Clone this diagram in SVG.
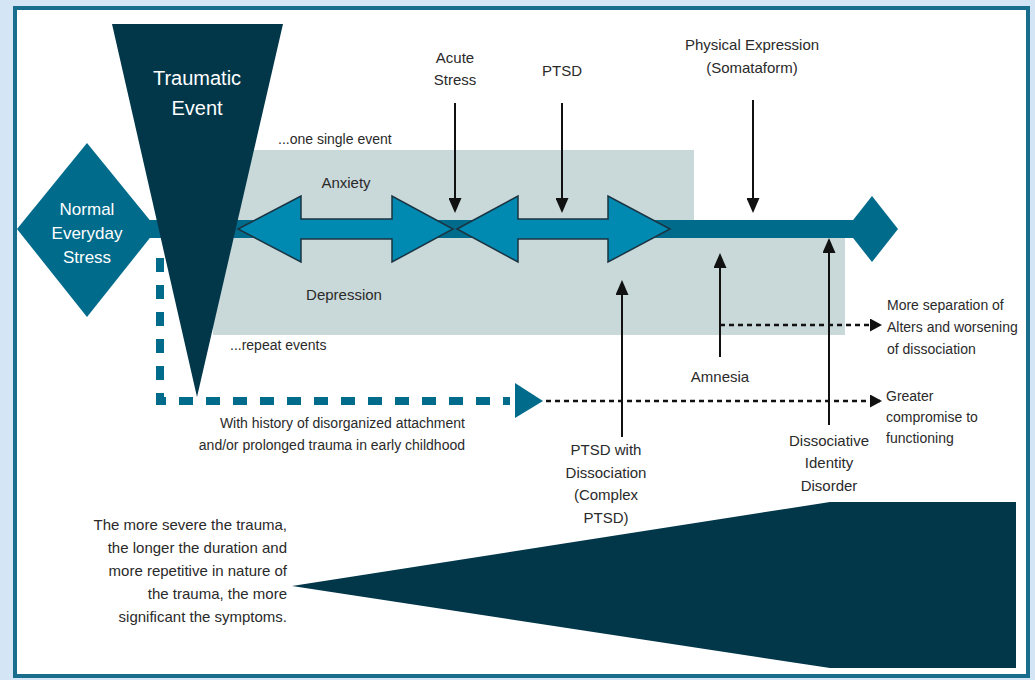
<svg xmlns="http://www.w3.org/2000/svg" width="1035" height="680" viewBox="0 0 1035 680">
<defs>
<style>
.lbl{font-family:"Liberation Sans",Arial,sans-serif;font-size:15px;fill:#2a2a2a}
.sm{font-size:14px}
.wt{font-family:"Liberation Sans",Arial,sans-serif;fill:#ffffff}
.arw{stroke:#111;stroke-width:2;fill:none;marker-end:url(#ah)}
.dot{stroke:#111;stroke-width:2.5;fill:none;stroke-dasharray:5 4;marker-end:url(#dh)}
.dbl{fill:#0089b1;stroke:#1b3442;stroke-width:1.5;stroke-linejoin:miter}
.teal{fill:#006b8b}
.navy{fill:#02374a}
</style>
<marker id="ah" viewBox="0 0 15 13" refX="13" refY="6.5" markerWidth="15" markerHeight="13" markerUnits="userSpaceOnUse" orient="auto">
<path d="M0,0 L15,6.5 L0,13 z" fill="#111"/>
</marker>
<marker id="dh" viewBox="0 0 12 13" refX="10" refY="6.5" markerWidth="12" markerHeight="13" markerUnits="userSpaceOnUse" orient="auto">
<path d="M0,0 L12,6.5 L0,13 z" fill="#111"/>
</marker>
</defs>
<rect x="0" y="0" width="1035" height="680" fill="#d4e5f5"/>
<rect x="15" y="8" width="1013" height="668" fill="#ffffff" stroke="#1a6e8d" stroke-width="4"/>

<g id="grey-zone">
<polygon points="213,150 694,150 694,229 845,229 845,335 213,335" fill="#c9d8d9"/>
</g>

<g id="timeline-bar">
<rect x="150" y="220" width="706" height="18" class="teal"/>
<polygon points="846,229 872,196 898,229 872,262" class="teal"/>
</g>

<g id="normal-stress">
<polygon points="17,229 87,143 157,229 87,317" class="teal"/>
<text class="wt" font-size="17" text-anchor="middle" x="87" y="215">Normal</text>
<text class="wt" font-size="17" text-anchor="middle" x="87" y="239">Everyday</text>
<text class="wt" font-size="17" text-anchor="middle" x="87" y="263">Stress</text>
</g>

<g id="traumatic-event">
<polygon points="112,24 283,24 197,397" class="navy"/>
<text class="wt" font-size="20" text-anchor="middle" x="197" y="85">Traumatic</text>
<text class="wt" font-size="20" text-anchor="middle" x="197" y="115">Event</text>
</g>

<g id="anxiety-arrow">
<polygon class="dbl" points="238,229 301,196 301,219 392,219 392,196 453,229 392,262 392,239 301,239 301,262"/>
</g>
<g id="ptsd-arrow">
<polygon class="dbl" points="457,229 518,196 518,219 608,219 608,196 670,229 608,262 608,239 518,239 518,262"/>
</g>

<g id="severity-wedge">
<polygon points="292,586 830,502 1016,502 1016,668 830,668" class="navy"/>
</g>

<g id="connectors">
<path d="M160,258 V401 H510" stroke="#006b8b" stroke-width="8" fill="none" stroke-dasharray="14 13"/>
<polygon points="515,383 543,401 515,418" class="teal"/>
<line class="dot" x1="546" y1="401" x2="880" y2="401"/>
<line class="dot" x1="720" y1="325" x2="880" y2="325"/>
<line class="arw" x1="455" y1="103" x2="455" y2="211"/>
<line class="arw" x1="562" y1="103" x2="562" y2="211"/>
<line class="arw" x1="753" y1="100" x2="753" y2="211"/>
<line class="arw" x1="622" y1="437" x2="622" y2="282"/>
<line class="arw" x1="720" y1="357" x2="720" y2="255"/>
<line class="arw" x1="829" y1="425" x2="829" y2="240"/>
</g>

<g id="labels">
<text class="lbl sm" x="278" y="144">...one single event</text>
<text class="lbl" text-anchor="middle" x="346" y="188">Anxiety</text>
<text class="lbl" text-anchor="middle" x="344" y="300">Depression</text>
<text class="lbl sm" x="230" y="350">...repeat events</text>
<text class="lbl" text-anchor="middle" x="455" y="63">Acute</text>
<text class="lbl" text-anchor="middle" x="455" y="85">Stress</text>
<text class="lbl" text-anchor="middle" x="562" y="76">PTSD</text>
<text class="lbl" text-anchor="middle" x="752" y="50">Physical Expression</text>
<text class="lbl" text-anchor="middle" x="752" y="73">(Somataform)</text>
<text class="lbl sm" text-anchor="end" x="465" y="428">With history of disorganized attachment</text>
<text class="lbl sm" text-anchor="end" x="465" y="450">and/or prolonged trauma in early childhood</text>
<text class="lbl" text-anchor="middle" x="606" y="455">PTSD with</text>
<text class="lbl" text-anchor="middle" x="606" y="478">Dissociation</text>
<text class="lbl" text-anchor="middle" x="606" y="500">(Complex</text>
<text class="lbl" text-anchor="middle" x="606" y="523">PTSD)</text>
<text class="lbl" text-anchor="middle" x="720" y="382">Amnesia</text>
<text class="lbl" text-anchor="middle" x="829" y="446">Dissociative</text>
<text class="lbl" text-anchor="middle" x="829" y="468">Identity</text>
<text class="lbl" text-anchor="middle" x="829" y="491">Disorder</text>
<text class="lbl sm" x="887" y="310">More separation of</text>
<text class="lbl sm" x="887" y="332">Alters and worsening</text>
<text class="lbl sm" x="887" y="354">of dissociation</text>
<text class="lbl sm" x="886" y="401">Greater</text>
<text class="lbl sm" x="886" y="422">compromise to</text>
<text class="lbl sm" x="886" y="443">functioning</text>
<text class="lbl" text-anchor="end" x="287" y="530">The more severe the trauma,</text>
<text class="lbl" text-anchor="end" x="287" y="553">the longer the duration and</text>
<text class="lbl" text-anchor="end" x="287" y="576">more repetitive in nature of</text>
<text class="lbl" text-anchor="end" x="287" y="599">the trauma, the more</text>
<text class="lbl" text-anchor="end" x="287" y="622">significant the symptoms.</text>
</g>
</svg>
